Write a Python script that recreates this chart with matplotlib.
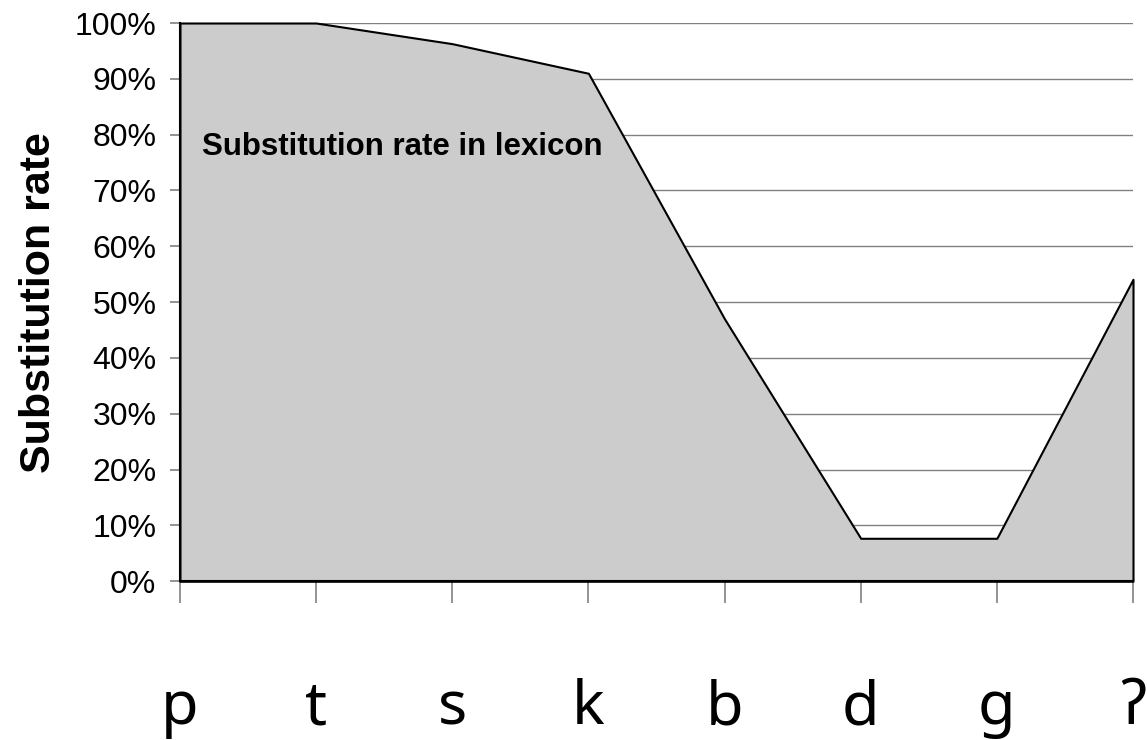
import matplotlib.pyplot as plt
from matplotlib.ticker import PercentFormatter

# 数据
sounds = ['p', 't', 's', 'k', 'b', 'd', 'g', 'ʔ']
rates = [100, 100, 96.3, 91.0, 47.0, 7.7, 7.7, 54.1]
y_ticks = list(range(0, 101, 10))

fig = plt.figure(figsize=(11.47, 7.4), dpi=100)
ax = fig.add_axes([0.1569, 0.2145, 0.8309, 0.7544])

x = list(range(len(sounds)))
ax.fill_between(x, rates, 0, facecolor='#cccccc', edgecolor='black',
                linewidth=1.5, zorder=2, clip_on=False)

ax.set_xlim(0, len(sounds) - 1)
ax.set_ylim(0, 100)
ax.set_yticks(y_ticks)
ax.yaxis.set_major_formatter(PercentFormatter(decimals=0))
ax.set_xticks(x)
ax.set_xticklabels(sounds, fontfamily=['Noto Sans', 'DejaVu Sans'], fontsize=44)

ax.grid(axis='y', color='#808080', linewidth=1.0, zorder=0)
ax.set_axisbelow(True)

for side in ['top', 'right']:
    ax.spines[side].set_visible(False)
ax.spines['left'].set_linewidth(1.5)
ax.spines['bottom'].set_linewidth(1.5)

ax.tick_params(axis='y', direction='out', length=7, width=1.2,
               color='#808080', labelsize=23, pad=10)
ax.tick_params(axis='x', direction='out', length=16, width=1.2,
               color='#808080', pad=54)
for lab in ax.get_yticklabels():
    lab.set_fontfamily('Liberation Sans')

ax.set_ylabel('Substitution rate', fontsize=31, fontweight='bold',
              fontfamily='Liberation Sans', labelpad=11)

ax.text(0.16, 77.8, 'Substitution rate in lexicon', fontsize=22.5,
        fontweight='bold', fontfamily='Liberation Sans', va='center', zorder=3)

fig.savefig('out.png', dpi=100)
